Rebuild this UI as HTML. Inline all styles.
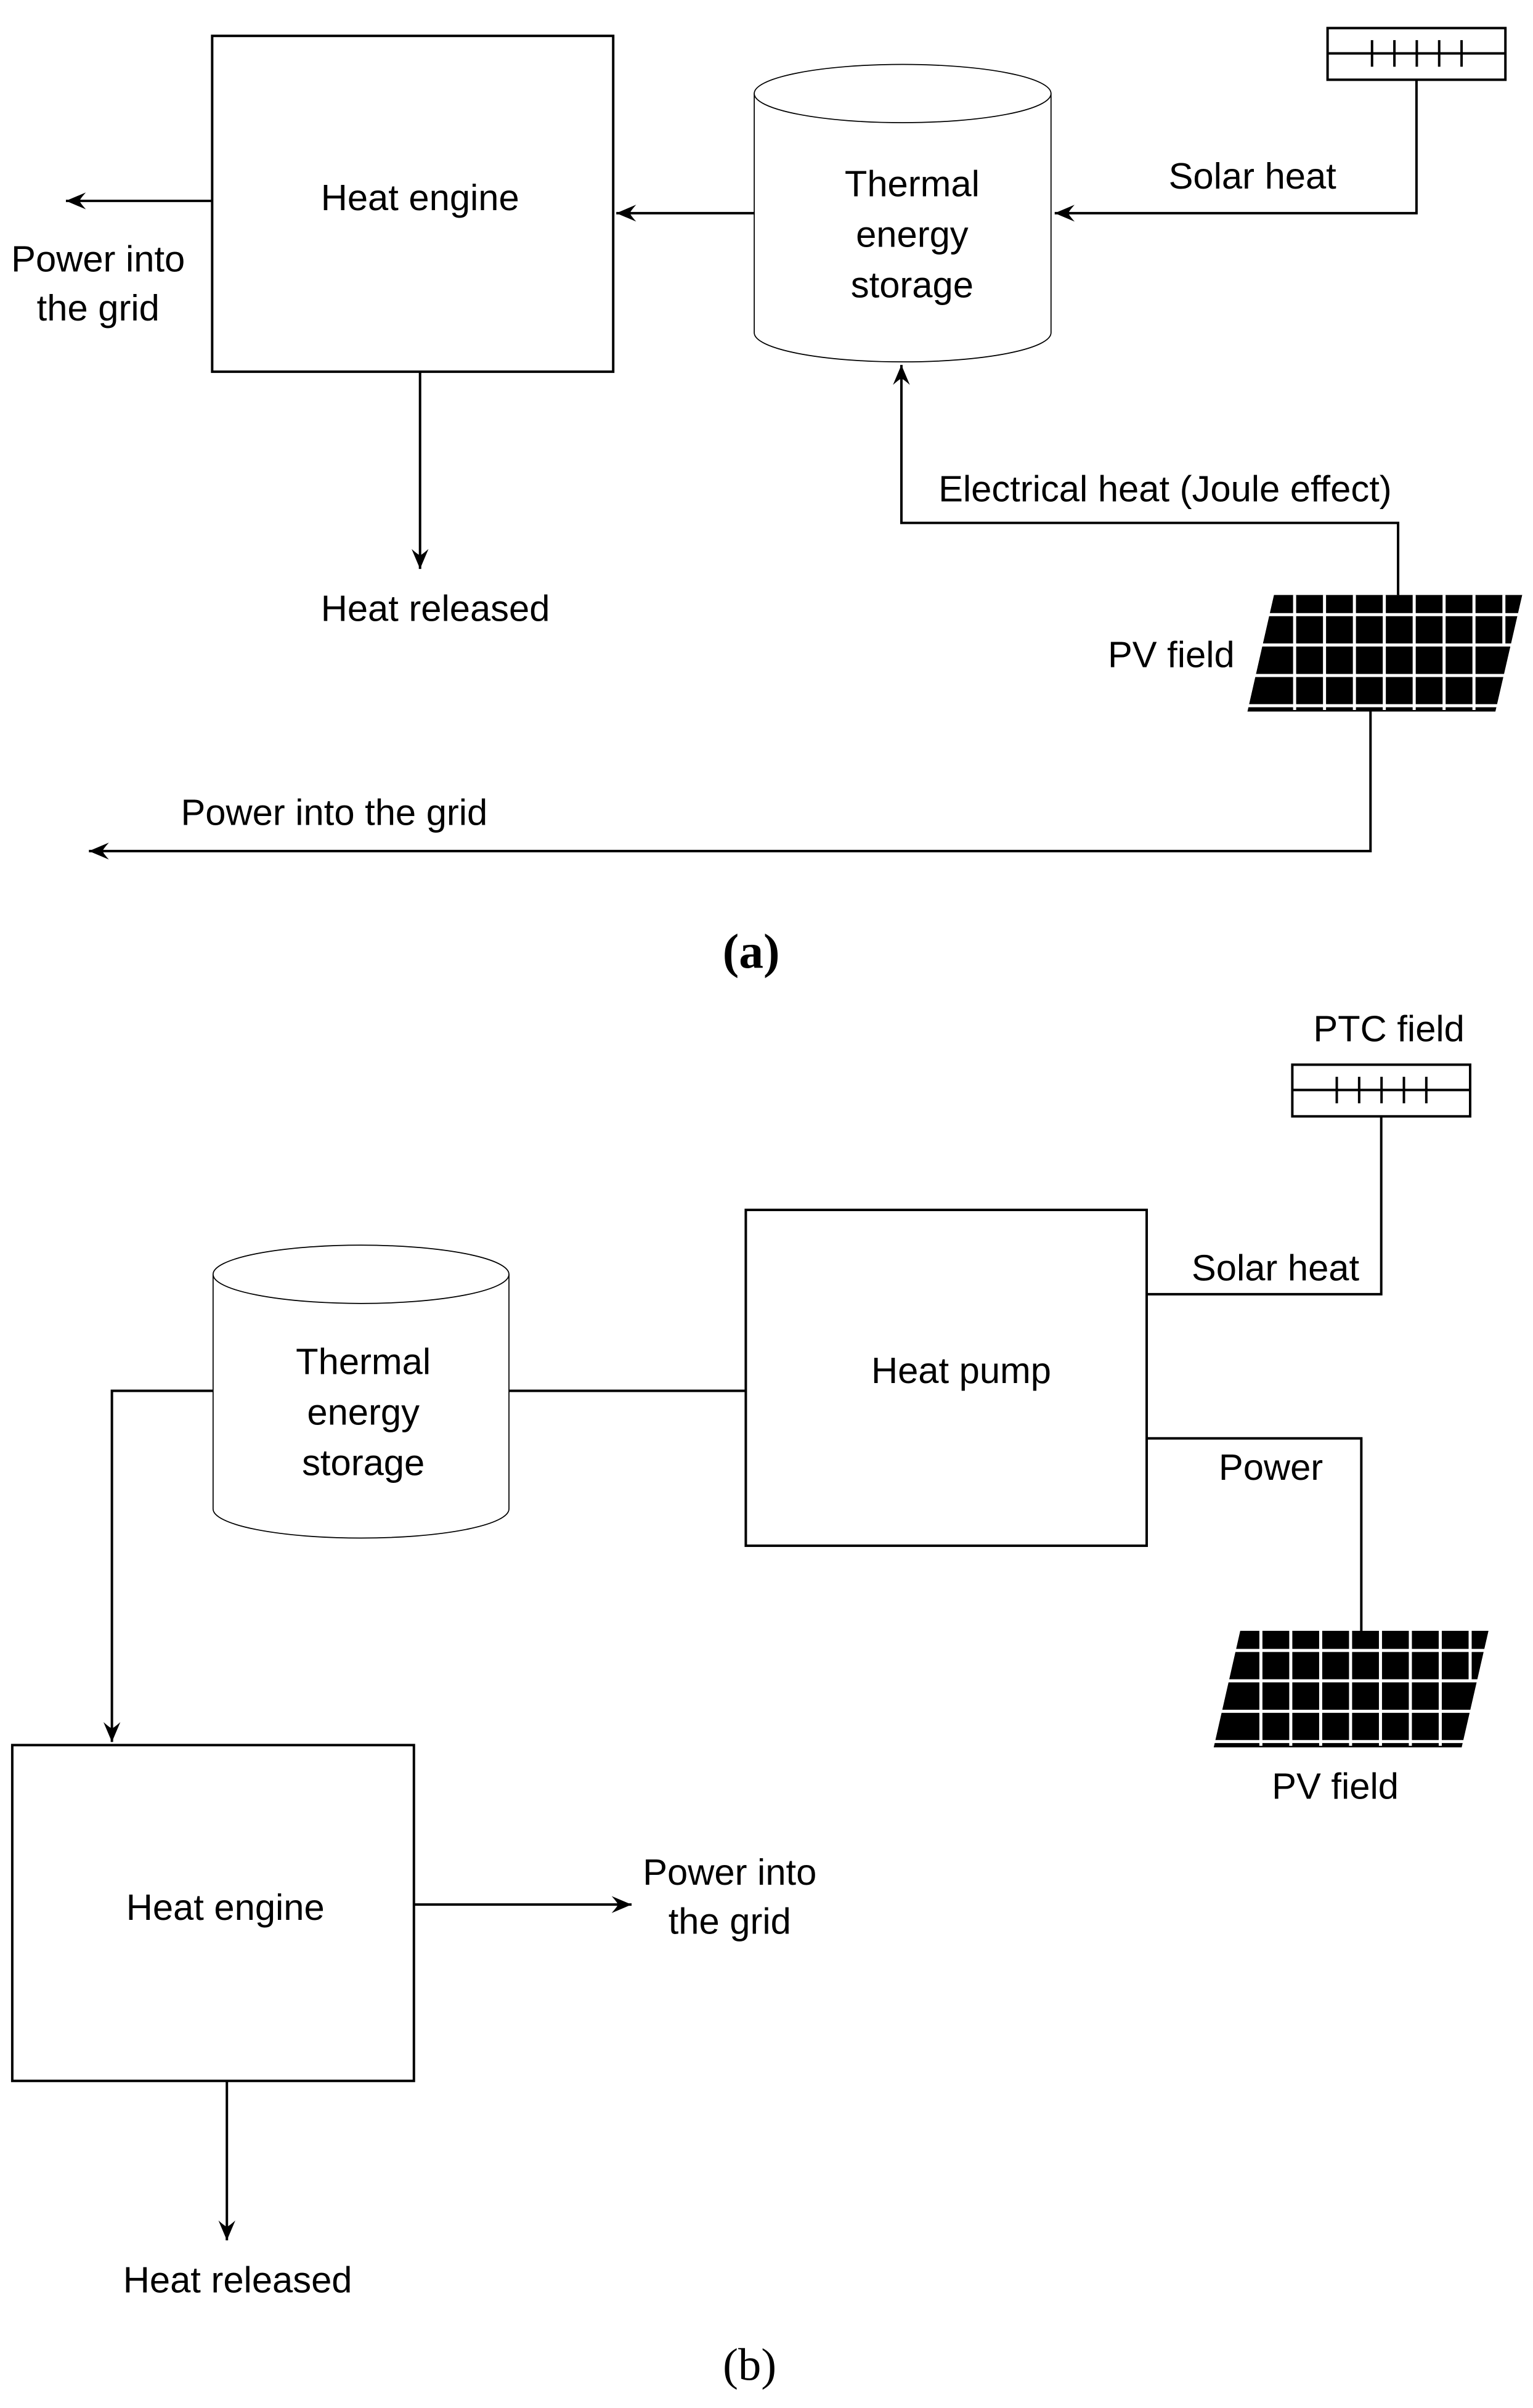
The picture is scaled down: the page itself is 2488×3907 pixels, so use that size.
<!DOCTYPE html>
<html><head><meta charset="utf-8"><style>
html,body{margin:0;padding:0;background:#fff;}
svg{display:block;}
text{font-family:"Liberation Sans",sans-serif;font-size:24px;fill:#000;text-anchor:middle;}
</style></head><body>
<svg width="2488" height="3907" viewBox="0 0 1000 1570.3" preserveAspectRatio="none" xmlns="http://www.w3.org/2000/svg">
<defs>
<marker id="ar" viewBox="-13 -6 14 12" refX="0" refY="0" markerWidth="14" markerHeight="12" markerUnits="userSpaceOnUse" orient="auto">
<path d="M0,0 L-13,-5.5 Q-9,-1 -9,0 Q-9,1 -13,5.5 Z" fill="#000"/>
</marker>
<g id="pv">
<polygon points="831,388 993,388 975.5,464 813.7,464" fill="#000"/>
<g stroke="#fff" stroke-width="2">
<line x1="844.5" y1="388" x2="844.5" y2="463"/><line x1="864" y1="388" x2="864" y2="463"/>
<line x1="883.5" y1="388" x2="883.5" y2="463"/><line x1="903" y1="388" x2="903" y2="463"/>
<line x1="922.5" y1="388" x2="922.5" y2="463"/><line x1="942" y1="388" x2="942" y2="463"/>
<line x1="961.5" y1="388" x2="961.5" y2="463"/><line x1="981" y1="388" x2="981" y2="420"/>
<line x1="810" y1="400.8" x2="993" y2="400.8"/><line x1="810" y1="420.6" x2="993" y2="420.6"/>
<line x1="810" y1="440.5" x2="993" y2="440.5"/><line x1="810" y1="460.2" x2="980" y2="460.2"/>
</g>
<polygon points="831,388 810,388 792,464 813.7,464" fill="#fff"/>
<polygon points="993,388 1000,388 1000,464 975.5,464" fill="#fff"/>
</g>
<g id="ptc" fill="none" stroke="#000" stroke-width="1.6">
<rect x="866" y="18.3" width="116" height="33.7"/>
<line x1="866" y1="34.8" x2="982" y2="34.8"/>
<line x1="895" y1="26.2" x2="895" y2="43.5"/><line x1="909.6" y1="26.2" x2="909.6" y2="43.5"/>
<line x1="924.2" y1="26.2" x2="924.2" y2="43.5"/><line x1="938.8" y1="26.2" x2="938.8" y2="43.5"/>
<line x1="953.4" y1="26.2" x2="953.4" y2="43.5"/>
</g>
</defs>

<!-- (a) -->
<g fill="none" stroke="#000" stroke-width="1.6">
<rect x="138.4" y="23.4" width="261.6" height="219"/>
<line x1="138.4" y1="131" x2="43" y2="131" marker-end="url(#ar)"/>
<line x1="274" y1="242.4" x2="274" y2="371" marker-end="url(#ar)"/>
<line x1="492" y1="139" x2="402" y2="139" marker-end="url(#ar)"/>
<polyline points="924,52 924,139 688,139" marker-end="url(#ar)"/>
<polyline points="912,388 912,341 588,341 588,238" marker-end="url(#ar)"/>
<polyline points="894,464 894,555 58,555" marker-end="url(#ar)"/>
</g>
<g fill="#fff" stroke="#000" stroke-width="0.7">
<path d="M492,61 L492,217 A96.8,19 0 0 0 685.6,217 L685.6,61"/>
<ellipse cx="588.8" cy="61" rx="96.8" ry="19"/>
</g>
<use href="#ptc"/>
<use href="#pv"/>
<text x="274" y="137">Heat engine</text>
<text x="64" y="177">Power into</text>
<text x="64" y="209">the grid</text>
<text x="284" y="405">Heat released</text>
<text x="595" y="128">Thermal</text>
<text x="595" y="161">energy</text>
<text x="595" y="194">storage</text>
<text x="817" y="123">Solar heat</text>
<text x="760" y="327">Electrical heat (Joule effect)</text>
<text x="764" y="435">PV field</text>
<text x="218" y="538">Power into the grid</text>
<text x="490" y="631" style="font-family:'Liberation Serif',serif;font-weight:bold;font-size:32px">(a)</text>

<!-- (b) -->
<use href="#ptc" transform="translate(-23,676)"/>
<use href="#pv" transform="translate(-22,675.5)"/>
<g fill="none" stroke="#000" stroke-width="1.6">
<rect x="486.5" y="789" width="261.5" height="219"/>
<polyline points="901,728 901,844 748,844"/>
<polyline points="748,938 888,938 888,1063.5"/>
<line x1="332" y1="907" x2="486.5" y2="907"/>
<polyline points="139,907 73,907 73,1136" marker-end="url(#ar)"/>
<rect x="8" y="1138" width="262" height="219"/>
<line x1="270" y1="1242" x2="412" y2="1242" marker-end="url(#ar)"/>
<line x1="148" y1="1357" x2="148" y2="1461" marker-end="url(#ar)"/>
</g>
<g fill="#fff" stroke="#000" stroke-width="0.7">
<path d="M139,831 L139,984 A96.5,19 0 0 0 332,984 L332,831"/>
<ellipse cx="235.5" cy="831" rx="96.5" ry="19"/>
</g>
<text x="906" y="679">PTC field</text>
<text x="832" y="835">Solar heat</text>
<text x="627" y="902">Heat pump</text>
<text x="829" y="965">Power</text>
<text x="871" y="1173">PV field</text>
<text x="237" y="896">Thermal</text>
<text x="237" y="929">energy</text>
<text x="237" y="962">storage</text>
<text x="147" y="1252">Heat engine</text>
<text x="476" y="1229">Power into</text>
<text x="476" y="1261">the grid</text>
<text x="155" y="1495">Heat released</text>
<text x="489" y="1552" style="font-family:'Liberation Serif',serif;font-size:30px">(b)</text>
</svg>
</body></html>
